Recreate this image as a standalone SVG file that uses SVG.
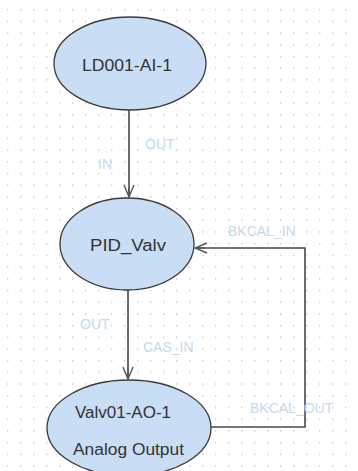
<svg xmlns="http://www.w3.org/2000/svg" width="358" height="471" viewBox="0 0 358 471">
<defs>
<pattern id="grid" x="2" y="4" width="13" height="11.7" patternUnits="userSpaceOnUse">
<rect x="5" y="5" width="1.4" height="1.4" fill="#c6c6c6"/>
</pattern>
<marker id="arr" viewBox="0 0 14 12" refX="13" refY="6" markerWidth="14" markerHeight="12" markerUnits="userSpaceOnUse" orient="auto">
<path d="M1,1 L13,6 L1,11 M3,6 L13,6" fill="none" stroke="#555" stroke-width="1.4"/>
</marker>
<style>
.node ellipse{fill:#c9ddf5;stroke:#3a3a3a;stroke-width:1.3}
.node text{font-family:"Liberation Sans",Arial,sans-serif;font-size:16px;fill:#333;text-anchor:middle}
.conn{fill:none;stroke:#4a4a4a;stroke-width:1.6}
.lbl{font-family:"Liberation Sans",Arial,sans-serif;font-size:14px;fill:#c6d9ea}
</style>
</defs>
<rect width="358" height="471" fill="#ffffff"/>
<rect width="358" height="471" fill="url(#grid)"/>
<g id="connectors">
<path class="conn" d="M129,110 L129,197" marker-end="url(#arr)"/>
<path class="conn" d="M128,290 L128,379" marker-end="url(#arr)"/>
<path class="conn" d="M211,427 L305,427 L305,248 L195,248" marker-end="url(#arr)"/>
<text class="lbl" x="145" y="149">OUT</text>
<text class="lbl" x="98" y="169">IN</text>
<text class="lbl" x="228" y="236">BKCAL_IN</text>
<text class="lbl" x="80" y="329">OUT</text>
<text class="lbl" x="143" y="352">CAS_IN</text>
<text class="lbl" x="250" y="413">BKCAL_OUT</text>
</g>
<g id="node-LD001-AI-1" class="node">
<ellipse cx="130" cy="63.5" rx="76" ry="46.5"/>
<text x="127" y="70.5" textLength="90" lengthAdjust="spacingAndGlyphs">LD001-AI-1</text>
</g>
<g id="node-PID_Valv" class="node">
<ellipse cx="127" cy="244" rx="67" ry="46"/>
<text x="128" y="250.5" textLength="76" lengthAdjust="spacingAndGlyphs">PID_Valv</text>
</g>
<g id="node-Valv01-AO-1" class="node">
<ellipse cx="129" cy="428" rx="82" ry="48"/>
<text x="123" y="418" textLength="96" lengthAdjust="spacingAndGlyphs">Valv01-AO-1</text>
<text x="128.5" y="455" textLength="111" lengthAdjust="spacingAndGlyphs">Analog Output</text>
</g>
</svg>
